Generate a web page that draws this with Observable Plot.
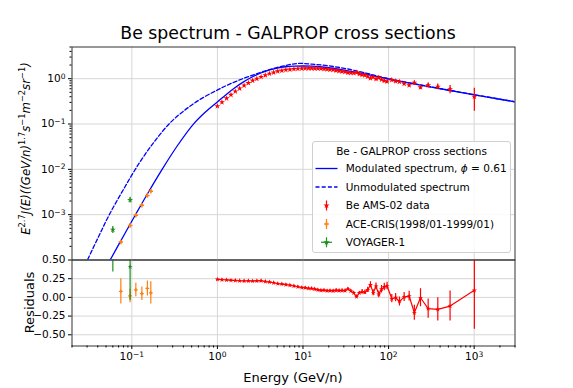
<!DOCTYPE html>
<html><head><meta charset="utf-8">
<script src="https://cdn.jsdelivr.net/npm/d3@7"></script>
<script src="https://cdn.jsdelivr.net/npm/@observablehq/plot@0.6"></script>
<style>
body{margin:0;background:#fff;}
#fig{position:relative;width:573px;height:388px;overflow:hidden;background:#fff;}
#fig svg{position:absolute;left:0;top:0;}
</style></head><body>
<div id="fig"></div>
<script>
// ---------- data ----------
const modE = [0.0427, 0.0558, 0.0785, 0.1107, 0.158, 0.226, 0.3436, 0.5248, 0.7244, 1.0, 1.259, 1.585, 1.995, 2.512, 3.162, 3.981, 5.012, 6.31, 7.943, 10, 12.59, 15.85, 22.39, 31.62, 50.12, 70.79, 100, 177.8, 316.2, 562.3, 1000, 1778, 3162];
const modF = [4.02e-5, 1.0e-4, 3.18e-4, 1.009e-3, 3.25e-3, 0.0100, 0.0340, 0.0995, 0.1837, 0.3076, 0.4446, 0.6237, 0.8375, 1.076, 1.318, 1.542, 1.718, 1.832, 1.888, 1.905, 1.892, 1.832, 1.698, 1.531, 1.297, 1.130, 0.984, 0.794, 0.650, 0.535, 0.4416, 0.3656, 0.3027];

const unmodE = [0.02296, 0.0303, 0.0407, 0.0547, 0.0826, 0.125, 0.187, 0.280, 0.4198, 0.628, 1.005, 1.406, 2.41, 4.72, 8.53, 12.59, 19.95, 31.62, 50.12, 100, 316.2, 1000, 3162];
const unmodF = [3.27e-5, 1.0e-4, 3.22e-4, 1.009e-3, 4.02e-3, 0.01476, 0.04276, 0.1062, 0.2051, 0.349, 0.565, 0.7656, 1.146, 1.718, 2.158, 2.099, 1.919, 1.667, 1.380, 1.0, 0.6577, 0.4446, 0.3041];

const amsE = [1.00, 1.13, 1.28, 1.44, 1.62, 1.82, 2.05, 2.30, 2.58, 2.89, 3.24, 3.63, 4.06, 4.54, 5.07, 5.66, 6.31, 7.03, 7.83, 8.71, 9.68, 10.6, 11.6, 12.6, 13.7, 14.9, 16.2, 17.6, 19.1, 20.7, 22.5, 24.4, 26.4, 28.6, 31.0, 33.5, 36.2, 39.1, 42.2, 45.5, 49.1, 52.9, 57.0, 61.4, 66.2, 71.3, 76.8, 82.7, 89.1, 96.0, 109, 121, 134, 152, 174, 200, 236, 290, 376, 523, 1005];
const amsF = [0.248, 0.303, 0.369, 0.440, 0.524, 0.609, 0.708, 0.802, 0.907, 0.999, 1.097, 1.195, 1.291, 1.372, 1.456, 1.509, 1.566, 1.599, 1.635, 1.661, 1.683, 1.686, 1.694, 1.692, 1.685, 1.681, 1.667, 1.633, 1.617, 1.585, 1.563, 1.513, 1.483, 1.445, 1.414, 1.349, 1.344, 1.339, 1.366, 1.267, 1.216, 1.189, 1.120, 1.024, 1.093, 0.982, 1.052, 0.956, 0.904, 0.868, 0.936, 0.877, 0.859, 0.776, 0.716, 0.817, 0.647, 0.716, 0.667, 0.585, 0.402];
const amsErr = [0.006, 0.007, 0.008, 0.009, 0.010, 0.012, 0.013, 0.015, 0.016, 0.018, 0.020, 0.022, 0.024, 0.025, 0.027, 0.028, 0.030, 0.031, 0.032, 0.033, 0.034, 0.035, 0.035, 0.035, 0.035, 0.035, 0.035, 0.035, 0.035, 0.035, 0.037, 0.037, 0.038, 0.038, 0.038, 0.040, 0.040, 0.040, 0.042, 0.040, 0.040, 0.040, 0.040, 0.042, 0.042, 0.042, 0.042, 0.045, 0.045, 0.045, 0.050, 0.050, 0.055, 0.055, 0.055, 0.075, 0.070, 0.090, 0.100, 0.120, 0.210];
const amsRes = [0.241, 0.236, 0.233, 0.228, 0.226, 0.222, 0.219, 0.221, 0.218, 0.220, 0.223, 0.212, 0.205, 0.196, 0.183, 0.178, 0.170, 0.162, 0.152, 0.142, 0.131, 0.128, 0.120, 0.118, 0.110, 0.100, 0.094, 0.096, 0.088, 0.090, 0.086, 0.094, 0.090, 0.092, 0.090, 0.112, 0.085, 0.060, 0.010, 0.060, 0.075, 0.068, 0.100, 0.168, 0.062, 0.148, 0.040, 0.110, 0.140, 0.152, -0.018, -0.004, -0.054, 0.004, 0.018, -0.205, -0.005, -0.150, -0.160, -0.116, 0.094];
const amsResErr = [0.012, 0.012, 0.012, 0.012, 0.012, 0.012, 0.012, 0.012, 0.012, 0.012, 0.014, 0.014, 0.014, 0.014, 0.014, 0.014, 0.014, 0.014, 0.014, 0.014, 0.016, 0.016, 0.016, 0.016, 0.016, 0.016, 0.016, 0.016, 0.016, 0.016, 0.020, 0.020, 0.020, 0.020, 0.020, 0.020, 0.020, 0.020, 0.020, 0.020, 0.030, 0.030, 0.035, 0.040, 0.040, 0.045, 0.045, 0.050, 0.050, 0.050, 0.055, 0.055, 0.060, 0.060, 0.065, 0.100, 0.120, 0.130, 0.155, 0.200, 0.520];

const aceE = [0.0744, 0.0955, 0.1114, 0.131, 0.152, 0.1667];
const aceF = [2.49e-4, 5.79e-4, 9.75e-4, 1.62e-3, 2.64e-3, 3.28e-3];
const aceErr = [2.0e-5, 4.6e-5, 7.8e-5, 1.3e-4, 2.1e-4, 2.6e-4];
const aceRes = [0.08, 0.02, 0.10, 0.05, 0.12, 0.06];
const aceResErr = [0.17, 0.09, 0.09, 0.09, 0.10, 0.15];

const voyE = [0.060, 0.0955];
const voyF = [4.66e-4, 2.12e-3];
const voyErr = [8.0e-5, 3.0e-4];
const voyRes = [0.62, 0.41];
const voyResErr = [0.28, 0.45];

const xTicks = [0.1, 1, 10, 100, 1000];
const yTicks = [1e-3, 1e-2, 1e-1, 1];
const resTicks = [-0.5, -0.25, 0, 0.25, 0.5];

const titleText = "Be spectrum - GALPROP cross sections";
const legendTitle = "Be - GALPROP cross sections";

// ---------- layout ----------
const W = 573, H = 388;
const ML = 71.5, MR = 58.5;
const TOP = 46.5, MID = 259.5, BOT = 345.5;
const FONT = "DejaVu Sans";
const GRID = "#d6d6d6";
const BLUE = "#0000ff", RED = "#ff0000", ORANGE = "#ff7f0e", GREEN = "#1f8f1f";
const xDomain = [0.02, 3000];

const mod = modE.map((E, i) => ({E, F: modF[i]}));
const unmod = unmodE.map((E, i) => ({E, F: unmodF[i]}));
const ams = amsE.map((E, i) => ({E, F: amsF[i], err: amsErr[i], res: amsRes[i], rerr: amsResErr[i]}));
const ace = aceE.map((E, i) => ({E, F: aceF[i], err: aceErr[i], res: aceRes[i], rerr: aceResErr[i]}));
const voy = voyE.map((E, i) => ({E, F: voyF[i], err: voyErr[i], res: voyRes[i], rerr: voyResErr[i]}));

const notPow = v => Math.abs(Math.log10(v) - Math.round(Math.log10(v))) > 1e-6;
const logMinorX = d3.scaleLog().domain(xDomain).ticks().filter(notPow);
const logMinorY = d3.scaleLog().domain([1e-4, 5]).ticks().filter(notPow);
const pow = d => "10^" + Math.round(Math.log10(d));

const style = {fontFamily: FONT, fontSize: "10.5px", background: "transparent", color: "#000", overflow: "visible"};

const topPlot = Plot.plot({
  width: W, height: H, marginLeft: ML, marginRight: MR, marginTop: TOP, marginBottom: H - MID,
  style,
  x: {type: "log", domain: xDomain, axis: null},
  y: {type: "log", domain: [1e-4, 5]},
  marks: [
    Plot.gridX(xTicks, {stroke: GRID, strokeOpacity: 1}),
    Plot.gridY(yTicks, {stroke: GRID, strokeOpacity: 1}),
    Plot.line(unmod, {x: "E", y: "F", stroke: BLUE, strokeWidth: 1.3, strokeDasharray: "4,2.2", curve: "catmull-rom", clip: true}),
    Plot.line(mod, {x: "E", y: "F", stroke: BLUE, strokeWidth: 1.3, curve: "catmull-rom", clip: true}),
    Plot.ruleX(ams, {x: "E", y1: d => d.F - d.err, y2: d => d.F + d.err, stroke: RED, strokeWidth: 1.2, clip: true}),
    Plot.dot(ams, {x: "E", y: "F", symbol: "star", r: 1.9, fill: RED, clip: true}),
    Plot.ruleX(ace, {x: "E", y1: d => d.F - d.err, y2: d => d.F + d.err, stroke: ORANGE, strokeWidth: 1.2, clip: true}),
    Plot.dot(ace, {x: "E", y: "F", symbol: "cross", r: 1.9, fill: ORANGE, clip: true}),
    Plot.ruleX(voy, {x: "E", y1: d => d.F - d.err, y2: d => d.F + d.err, stroke: GREEN, strokeWidth: 1.2, clip: true}),
    Plot.dot(voy, {x: "E", y: "F", symbol: "star", r: 1.9, fill: GREEN, clip: true}),
    Plot.frame({stroke: "#333", strokeWidth: 1}),
    Plot.axisY(yTicks, {tickSize: 3.5, tickPadding: 3, tickFormat: pow, label: null}),
    Plot.axisY(logMinorY, {tickSize: 2, tickFormat: () => "", label: null})
  ]
});

const botPlot = Plot.plot({
  width: W, height: H, marginLeft: ML, marginRight: MR, marginTop: MID, marginBottom: H - BOT,
  style,
  x: {type: "log", domain: xDomain},
  y: {domain: [-0.65, 0.5]},
  marks: [
    Plot.gridX(xTicks, {stroke: GRID, strokeOpacity: 1}),
    Plot.gridY(resTicks.slice(0, 4), {stroke: GRID, strokeOpacity: 1}),
    Plot.line(ams, {x: "E", y: "res", stroke: RED, strokeWidth: 1.2, clip: true}),
    Plot.ruleX(ams, {x: "E", y1: d => d.res - d.rerr, y2: d => d.res + d.rerr, stroke: RED, strokeWidth: 1.2, clip: true}),
    Plot.dot(ams, {x: "E", y: "res", symbol: "star", r: 1.6, fill: RED, clip: true}),
    Plot.ruleX(ace, {x: "E", y1: d => d.res - d.rerr, y2: d => d.res + d.rerr, stroke: ORANGE, strokeWidth: 1.2, clip: true}),
    Plot.dot(ace, {x: "E", y: "res", symbol: "cross", r: 1.6, fill: ORANGE, clip: true}),
    Plot.ruleX(voy, {x: "E", y1: d => d.res - d.rerr, y2: d => d.res + d.rerr, stroke: GREEN, strokeWidth: 1.2, clip: true}),
    Plot.dot(voy, {x: "E", y: "res", symbol: "star", r: 1.6, fill: GREEN, clip: true}),
    Plot.frame({stroke: "#333", strokeWidth: 1}),
    Plot.axisX(xTicks, {tickSize: 3.5, tickPadding: 3, tickFormat: pow, label: null}),
    Plot.axisX(logMinorX, {tickSize: 2, tickFormat: () => "", label: null}),
    Plot.axisY(resTicks, {tickSize: 3.5, tickPadding: 3, tickFormat: d3.format(".2f"), label: null})
  ]
});

const fig = document.getElementById("fig");
fig.appendChild(topPlot);
fig.appendChild(botPlot);

// superscript tick labels
function supify(svg) {
  d3.select(svg).selectAll("text").each(function() {
    const t = this.textContent;
    if (!t.includes("^")) return;
    const [b, e] = t.split("^");
    const s = d3.select(this);
    s.text(null);
    s.append("tspan").text(b);
    s.append("tspan").attr("dy", "-0.45em").attr("font-size", "0.72em").text(e.replace("-", "\u2212"));
  });
}
supify(topPlot);
supify(botPlot);

// title
const ts = d3.select(topPlot);
ts.append("text").attr("x", 288).attr("y", 38.5).attr("text-anchor", "middle")
  .attr("font-family", FONT).attr("font-size", 17.3).attr("fill", "#000").text(titleText);

// top y label (math style)
const yl = ts.append("text").attr("transform", `translate(30,148.5) rotate(-90)`)
  .attr("text-anchor", "middle").attr("font-family", FONT).attr("font-size", 11.7).attr("fill", "#000");
const parts = [["E", 0], ["2.7", 1], ["J(E)((GeV/n)", 0], ["1.7", 1], ["s", 0], ["\u22121", 1], ["m", 0], ["\u22122", 1], ["sr", 0], ["\u22121", 1], [")", 0]];
let raised = false;
for (const [txt, sup] of parts) {
  const sp = yl.append("tspan").text(txt);
  if (sup) { sp.attr("font-size", 8.3).attr("font-style", "normal"); if (!raised) sp.attr("dy", -4.9); raised = true; }
  else { sp.attr("font-style", "italic"); if (raised) sp.attr("dy", 4.9); raised = false; }
}

// bottom labels
const bs = d3.select(botPlot);
bs.append("text").attr("x", (ML + W - MR) / 2).attr("y", 381.5).attr("text-anchor", "middle")
  .attr("font-family", FONT).attr("font-size", 13).attr("fill", "#000").text("Energy (GeV/n)");
bs.append("text").attr("transform", `translate(33.5,${(MID + BOT) / 2}) rotate(-90)`).attr("text-anchor", "middle")
  .attr("font-family", FONT).attr("font-size", 13).attr("fill", "#000").text("Residuals");

// legend
const lg = ts.append("g").attr("font-family", FONT).attr("font-size", 10.5).attr("text-anchor", "start").attr("fill", "#000");
lg.append("rect").attr("x", 312.5).attr("y", 141.5).attr("width", 198).attr("height", 111).attr("rx", 2.5)
  .attr("fill", "#fff").attr("fill-opacity", 0.85).attr("stroke", "#d0d0d0");
lg.append("text").attr("x", 411.5).attr("y", 155).attr("text-anchor", "middle").text(legendTitle);
const rows = [
  {kind: "solid", label: "Modulated spectrum, ", phi: true, cy: 168.5},
  {kind: "dash", label: "Unmodulated spectrum", cy: 187},
  {kind: "err", color: RED, sym: d3.symbolStar, label: "Be AMS-02 data", cy: 205.5},
  {kind: "err", color: ORANGE, sym: d3.symbolCross, label: "ACE-CRIS(1998/01-1999/01)", cy: 224},
  {kind: "err", color: GREEN, sym: d3.symbolStar, label: "VOYAGER-1", cy: 242.3, hbar: true}
];
for (const r of rows) {
  if (r.kind === "solid" || r.kind === "dash") {
    const l = lg.append("line").attr("x1", 315.5).attr("x2", 337.5).attr("y1", r.cy).attr("y2", r.cy)
      .attr("stroke", BLUE).attr("stroke-width", 1.3);
    if (r.kind === "dash") l.attr("stroke-dasharray", "4,2.2");
  } else {
    lg.append("line").attr("x1", 326.5).attr("x2", 326.5).attr("y1", r.cy - 5).attr("y2", r.cy + 5)
      .attr("stroke", r.color).attr("stroke-width", 1.2);
    if (r.hbar) lg.append("line").attr("x1", 321).attr("x2", 332).attr("y1", r.cy).attr("y2", r.cy)
      .attr("stroke", r.color).attr("stroke-width", 1.2);
    lg.append("path").attr("d", d3.symbol(r.sym, 12)()).attr("transform", `translate(326.5,${r.cy})`).attr("fill", r.color);
  }
  const t = lg.append("text").attr("x", 345.7).attr("y", r.cy + 3.8).text(r.label);
  if (r.phi) {
    t.append("tspan").attr("font-style", "italic").text("\u03d5");
    t.append("tspan").text(" = 0.61");
  }
}
</script>
</body></html>
